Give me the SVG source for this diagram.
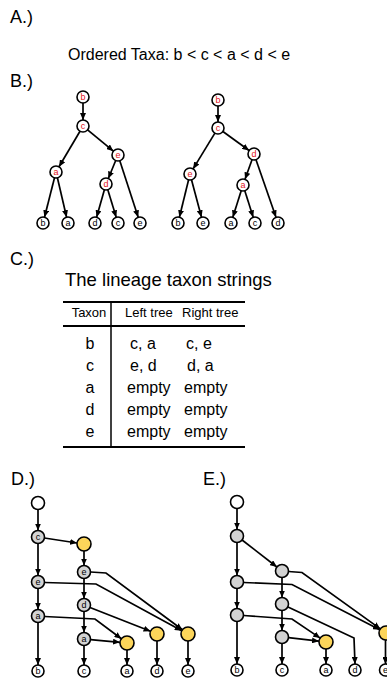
<svg xmlns="http://www.w3.org/2000/svg" width="387" height="679" viewBox="0 0 387 679">
<defs>
<marker id="ah" markerUnits="userSpaceOnUse" markerWidth="7" markerHeight="6" refX="7" refY="3" orient="auto">
<path d="M0,0 L7,3 L0,6 z" fill="#000"/>
</marker>
<style>
text{font-family:"Liberation Sans",Arial,sans-serif;fill:#000}
.lbl{font-size:18px}
.nl{font-size:9px;text-anchor:middle}
.red{fill:#e3141b}
.n{fill:#fff;stroke:#000;stroke-width:1.6}
.g{fill:#d3d3d3;stroke:#000;stroke-width:1.6}
.y{fill:#fcd55a;stroke:#000;stroke-width:1.6}
.e{fill:none;stroke:#000;stroke-width:1.7;marker-end:url(#ah)}
.tl{stroke:#000;stroke-width:2}
.th{font-size:13px}
.tc{font-size:16px}
</style>
</defs>

<text class="lbl" x="10" y="23">A.)</text>
<text x="68" y="60" font-size="16">Ordered Taxa: b &lt; c &lt; a &lt; d &lt; e</text>
<text class="lbl" x="10" y="87">B.)</text>
<text class="lbl" x="10" y="265">C.)</text>
<text class="lbl" x="11" y="485">D.)</text>
<text class="lbl" x="203" y="485">E.)</text>

<!-- Table -->
<g id="table">
<text x="65" y="286" font-size="18.5">The lineage taxon strings</text>
<line class="tl" x1="63" y1="302" x2="245" y2="302"/>
<line class="tl" x1="63" y1="326" x2="245" y2="326"/>
<line class="tl" x1="63" y1="447" x2="245" y2="447"/>
<line x1="111" y1="302" x2="111" y2="447" stroke="#000" stroke-width="1.5"/>
<text class="th" x="89" y="317" text-anchor="middle">Taxon</text>
<text class="th" x="125" y="317">Left tree</text>
<text class="th" x="182" y="317">Right tree</text>
<g class="tc" text-anchor="middle">
<text class="tc" x="90" y="349">b</text>
<text class="tc" x="90" y="371">c</text>
<text class="tc" x="90" y="393">a</text>
<text class="tc" x="90" y="415">d</text>
<text class="tc" x="90" y="437">e</text>
</g>
<text class="tc" x="130" y="349">c, a</text>
<text class="tc" x="130" y="371">e, d</text>
<text class="tc" x="127" y="393">empty</text>
<text class="tc" x="127" y="415">empty</text>
<text class="tc" x="127" y="437">empty</text>
<text class="tc" x="186" y="349">c, e</text>
<text class="tc" x="187" y="371">d, a</text>
<text class="tc" x="184" y="393">empty</text>
<text class="tc" x="184" y="415">empty</text>
<text class="tc" x="184" y="437">empty</text>
</g>

<!-- Connectors -->
<g id="connectors">
<!-- B left -->
<line class="e" x1="83" y1="103" x2="83" y2="120"/>
<line class="e" x1="80" y1="131.2" x2="59" y2="166.8"/>
<line class="e" x1="87.6" y1="129.8" x2="113.4" y2="151.2"/>
<line class="e" x1="54.5" y1="177.8" x2="44.5" y2="217.2"/>
<line class="e" x1="57.4" y1="177.8" x2="66.6" y2="217.2"/>
<line class="e" x1="115.7" y1="160.5" x2="108.3" y2="178.5"/>
<line class="e" x1="119.8" y1="160.7" x2="138.2" y2="217.3"/>
<line class="e" x1="104.4" y1="189.8" x2="96.6" y2="217.2"/>
<line class="e" x1="107.8" y1="189.7" x2="116.2" y2="217.3"/>
<!-- B right -->
<line class="e" x1="218" y1="106" x2="218" y2="122"/>
<line class="e" x1="214.9" y1="133.1" x2="193.1" y2="168.9"/>
<line class="e" x1="222.9" y1="131.5" x2="249.1" y2="150.5"/>
<line class="e" x1="188.6" y1="179.8" x2="179.4" y2="217.2"/>
<line class="e" x1="191.5" y1="179.8" x2="201.5" y2="217.2"/>
<line class="e" x1="252" y1="159.7" x2="245" y2="179.3"/>
<line class="e" x1="256" y1="159.7" x2="276" y2="217.3"/>
<line class="e" x1="241.2" y1="190.7" x2="232.8" y2="217.3"/>
<line class="e" x1="244.8" y1="190.7" x2="253.2" y2="217.3"/>
<!-- D -->
<line class="e" x1="38" y1="509.5" x2="38" y2="530.5"/>
<line class="e" x1="38" y1="543.5" x2="38" y2="575.5"/>
<line class="e" x1="38" y1="588.5" x2="38" y2="609.5"/>
<line class="e" x1="38" y1="622.5" x2="38" y2="665"/>
<line class="e" x1="44.4" y1="538" x2="77.1" y2="543"/>
<line class="e" x1="84" y1="551" x2="84" y2="565.5"/>
<line class="e" x1="84" y1="578.5" x2="84" y2="598.5"/>
<line class="e" x1="84" y1="611.5" x2="84" y2="632.5"/>
<line class="e" x1="84" y1="645.5" x2="84" y2="665"/>
<line class="e" x1="90.5" y1="639.6" x2="120" y2="642.3"/>
<line class="e" x1="127" y1="650" x2="127" y2="665"/>
<line class="e" x1="157" y1="641" x2="157" y2="665"/>
<line class="e" x1="188" y1="641" x2="188" y2="665"/>
<polyline class="e" points="44.5,582.5 96,584 181.8,630.7"/>
<polyline class="e" points="90.5,572 106,573 182.4,629.8"/>
<line class="e" x1="90" y1="607.5" x2="150.5" y2="631.3"/>
<polyline class="e" points="44.5,616.5 95,619 121.4,638.8"/>
<!-- E -->
<line class="e" x1="237" y1="508.5" x2="237" y2="529.5"/>
<line class="e" x1="237" y1="542.5" x2="237" y2="575.5"/>
<line class="e" x1="237" y1="588.5" x2="237" y2="608.5"/>
<line class="e" x1="237" y1="621.5" x2="237" y2="664"/>
<line class="e" x1="242.1" y1="540" x2="276.9" y2="567"/>
<line class="e" x1="282" y1="577.5" x2="282" y2="597.5"/>
<line class="e" x1="282" y1="610.5" x2="282" y2="630.5"/>
<line class="e" x1="282" y1="643.5" x2="282" y2="664"/>
<line class="e" x1="288.5" y1="637.7" x2="319" y2="641.2"/>
<line class="e" x1="326" y1="649" x2="326" y2="664"/>
<line class="e" x1="385.5" y1="640" x2="385.5" y2="664"/>
<polyline class="e" points="243.5,582.5 292,584.5 379.8,629.8"/>
<polyline class="e" points="288.5,571.5 302,572.5 380.3,628.9"/>
<polyline class="e" points="243.5,615.5 292,619 320.2,638.1"/>
<polyline class="e" points="288,607 354,638 355,664"/>
</g>

<!-- B left nodes -->
<g id="BL_b"><circle class="n" cx="83" cy="97" r="6"/><text class="nl red" x="83" y="100">b</text></g>
<g id="BL_c"><circle class="n" cx="83" cy="126" r="6"/><text class="nl red" x="83" y="129">c</text></g>
<g id="BL_a"><circle class="n" cx="56" cy="172" r="6"/><text class="nl red" x="56" y="175">a</text></g>
<g id="BL_e"><circle class="n" cx="118" cy="155" r="6"/><text class="nl red" x="118" y="158">e</text></g>
<g id="BL_d"><circle class="n" cx="106" cy="184" r="6"/><text class="nl red" x="106" y="187">d</text></g>
<g id="BL_lb"><circle class="n" cx="43" cy="223" r="6"/><text class="nl" x="43" y="226">b</text></g>
<g id="BL_la"><circle class="n" cx="68" cy="223" r="6"/><text class="nl" x="68" y="226">a</text></g>
<g id="BL_ld"><circle class="n" cx="95" cy="223" r="6"/><text class="nl" x="95" y="226">d</text></g>
<g id="BL_lc"><circle class="n" cx="118" cy="223" r="6"/><text class="nl" x="118" y="226">c</text></g>
<g id="BL_le"><circle class="n" cx="140" cy="223" r="6"/><text class="nl" x="140" y="226">e</text></g>

<!-- B right nodes -->
<g id="BR_b"><circle class="n" cx="218" cy="100" r="6"/><text class="nl red" x="218" y="103">b</text></g>
<g id="BR_c"><circle class="n" cx="218" cy="128" r="6"/><text class="nl red" x="218" y="131">c</text></g>
<g id="BR_e"><circle class="n" cx="190" cy="174" r="6"/><text class="nl red" x="190" y="177">e</text></g>
<g id="BR_d"><circle class="n" cx="254" cy="154" r="6"/><text class="nl red" x="254" y="157">d</text></g>
<g id="BR_a"><circle class="n" cx="243" cy="185" r="6"/><text class="nl red" x="243" y="188">a</text></g>
<g id="BR_lb"><circle class="n" cx="178" cy="223" r="6"/><text class="nl" x="178" y="226">b</text></g>
<g id="BR_le"><circle class="n" cx="203" cy="223" r="6"/><text class="nl" x="203" y="226">e</text></g>
<g id="BR_la"><circle class="n" cx="231" cy="223" r="6"/><text class="nl" x="231" y="226">a</text></g>
<g id="BR_lc"><circle class="n" cx="255" cy="223" r="6"/><text class="nl" x="255" y="226">c</text></g>
<g id="BR_ld"><circle class="n" cx="278" cy="223" r="6"/><text class="nl" x="278" y="226">d</text></g>

<!-- D nodes -->
<g id="D_root"><circle class="n" cx="38" cy="503" r="6.5"/></g>
<g id="D_c"><circle class="g" cx="38" cy="537" r="6.5"/><text class="nl" x="38" y="540">c</text></g>
<g id="D_e1"><circle class="g" cx="38" cy="582" r="6.5"/><text class="nl" x="38" y="585">e</text></g>
<g id="D_a1"><circle class="g" cx="38" cy="616" r="6.5"/><text class="nl" x="38" y="619">a</text></g>
<g id="D_y1"><circle class="y" cx="84" cy="544" r="7"/></g>
<g id="D_e2"><circle class="g" cx="84" cy="572" r="6.5"/><text class="nl" x="84" y="575">e</text></g>
<g id="D_d2"><circle class="g" cx="84" cy="605" r="6.5"/><text class="nl" x="84" y="608">d</text></g>
<g id="D_a2"><circle class="g" cx="84" cy="639" r="6.5"/><text class="nl" x="84" y="642">a</text></g>
<g id="D_ya"><circle class="y" cx="127" cy="643" r="7"/></g>
<g id="D_yd"><circle class="y" cx="157" cy="634" r="7"/></g>
<g id="D_ye"><circle class="y" cx="188" cy="634" r="7"/></g>
<g id="D_lb"><circle class="n" cx="38" cy="671" r="6"/><text class="nl" x="38" y="674">b</text></g>
<g id="D_lc"><circle class="n" cx="84" cy="671" r="6"/><text class="nl" x="84" y="674">c</text></g>
<g id="D_la"><circle class="n" cx="127" cy="671" r="6"/><text class="nl" x="127" y="674">a</text></g>
<g id="D_ld"><circle class="n" cx="157" cy="671" r="6"/><text class="nl" x="157" y="674">d</text></g>
<g id="D_le"><circle class="n" cx="188" cy="671" r="6"/><text class="nl" x="188" y="674">e</text></g>

<!-- E nodes -->
<g id="E_root"><circle class="n" cx="237" cy="502" r="6.5"/></g>
<g id="E_n1"><circle class="g" cx="237" cy="536" r="6.5"/></g>
<g id="E_n2"><circle class="g" cx="237" cy="582" r="6.5"/></g>
<g id="E_n3"><circle class="g" cx="237" cy="615" r="6.5"/></g>
<g id="E_m1"><circle class="g" cx="282" cy="571" r="6.5"/></g>
<g id="E_m2"><circle class="g" cx="282" cy="604" r="6.5"/></g>
<g id="E_m3"><circle class="g" cx="282" cy="637" r="6.5"/></g>
<g id="E_ya"><circle class="y" cx="326" cy="642" r="7"/></g>
<g id="E_ye"><circle class="y" cx="386" cy="633" r="7"/></g>
<g id="E_lb"><circle class="n" cx="237" cy="670" r="6"/><text class="nl" x="237" y="673">b</text></g>
<g id="E_lc"><circle class="n" cx="282" cy="670" r="6"/><text class="nl" x="282" y="673">c</text></g>
<g id="E_la"><circle class="n" cx="326" cy="670" r="6"/><text class="nl" x="326" y="673">a</text></g>
<g id="E_ld"><circle class="n" cx="355" cy="670" r="6"/><text class="nl" x="355" y="673">d</text></g>
<g id="E_le"><circle class="n" cx="385.5" cy="670" r="6"/><text class="nl" x="385.5" y="673">e</text></g>
</svg>
